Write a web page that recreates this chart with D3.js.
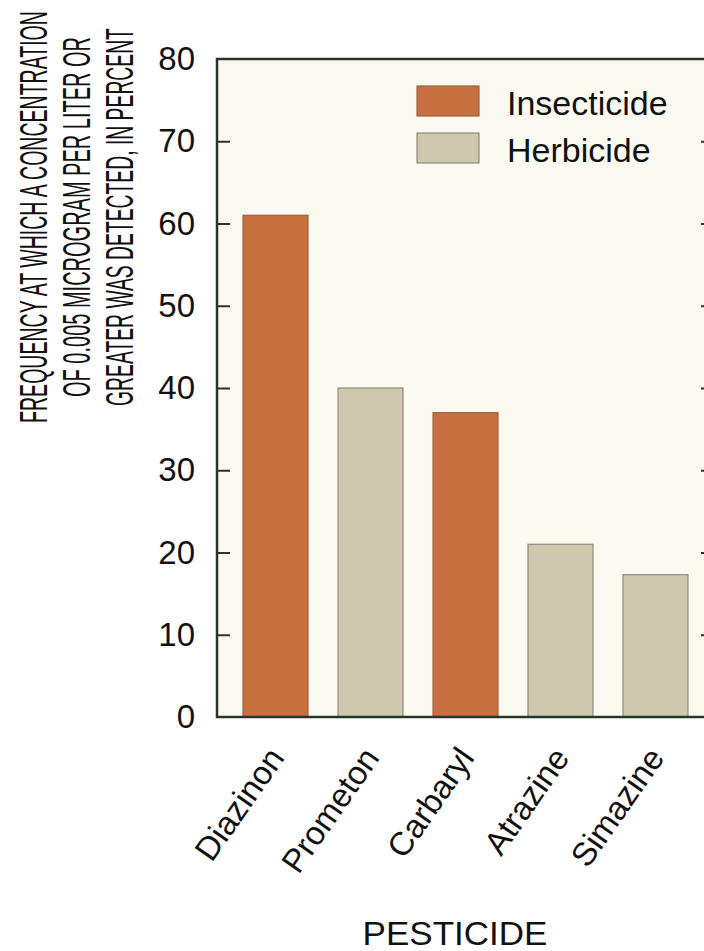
<!DOCTYPE html>
<html>
<head>
<meta charset="utf-8">
<script src="https://cdn.jsdelivr.net/npm/d3@7"></script>
<style>
  html, body { margin: 0; padding: 0; background: #ffffff; }
  svg { display: block; }
  text { font-family: "Liberation Sans", Arial, Helvetica, sans-serif; fill: #111; }
</style>
</head>
<body>
<svg id="chart" width="704" height="951"></svg>
<script>
// ---- data ----
const categories = ["Diazinon", "Prometon", "Carbaryl", "Atrazine", "Simazine"];
const values = [61, 40, 37, 21, 17.3];
const types = ["Insecticide", "Herbicide", "Insecticide", "Herbicide", "Herbicide"];
const legendLabels = ["Insecticide", "Herbicide"];
const yTicks = [0, 10, 20, 30, 40, 50, 60, 70, 80];
const yTitleLines = [
  "FREQUENCY AT WHICH A CONCENTRATION",
  "OF 0.005 MICROGRAM PER LITER OR",
  "GREATER WAS DETECTED, IN PERCENT"
];
const xTitle = "PESTICIDE";

// ---- layout ----
const plotL = 217, plotR = 714, plotT = 59, plotB = 717;
const colors = { Insecticide: "#c6703f", Herbicide: "#cdc8ae" };
const strokes = { Insecticide: "#a0603c", Herbicide: "#8f8b7c" };
const axisColor = "#28352b";

const svg = d3.select("#chart");

const x = d3.scaleBand().domain(categories).range([plotL, plotR])
  .paddingInner(0.316).paddingOuter(0.274);
const y = d3.scaleLinear().domain([0, 80]).range([plotB, plotT]);

// plot background
svg.append("rect").attr("x", plotL).attr("y", plotT)
  .attr("width", plotR - plotL).attr("height", plotB - plotT)
  .attr("fill", "#fbfaf1");

// bars
svg.append("g").selectAll("rect").data(categories).join("rect")
  .attr("x", d => x(d))
  .attr("y", (d, i) => y(values[i]))
  .attr("width", x.bandwidth())
  .attr("height", (d, i) => y(0) - y(values[i]))
  .attr("fill", (d, i) => colors[types[i]])
  .attr("stroke", (d, i) => strokes[types[i]])
  .attr("stroke-width", 1.2);

// left axis
const yAxis = d3.axisLeft(y).tickValues(yTicks).tickSizeInner(-13).tickSizeOuter(0).tickPadding(22);
const gy = svg.append("g").attr("transform", `translate(${plotL},0)`).call(yAxis);
gy.select(".domain").remove();
gy.selectAll(".tick line").attr("stroke", axisColor).attr("stroke-width", 2)
  .filter(d => d === 0 || d === 80).remove();
gy.selectAll(".tick text").attr("font-size", 33).attr("fill", "#111")
  .style("font-family", '"Liberation Sans", Arial, sans-serif');

// right axis ticks (no labels)
const yAxisR = d3.axisRight(y).tickValues(yTicks).tickSizeInner(-13).tickSizeOuter(0).tickFormat("");
const gyr = svg.append("g").attr("transform", `translate(${plotR},0)`).call(yAxisR);
gyr.select(".domain").remove();
gyr.selectAll(".tick line").attr("stroke", axisColor).attr("stroke-width", 2)
  .filter(d => d === 0 || d === 80).remove();

// frame
svg.append("rect").attr("x", plotL).attr("y", plotT)
  .attr("width", plotR - plotL).attr("height", plotB - plotT)
  .attr("fill", "none").attr("stroke", axisColor).attr("stroke-width", 2.5);

// category labels
svg.append("g").selectAll("text").data(categories).join("text")
  .attr("transform", d => `translate(${x(d) + x.bandwidth() / 2 + 10},${plotB + 41}) rotate(-55)`)
  .attr("text-anchor", "end")
  .attr("font-size", 33)
  .text(d => d);

// x title
const xt = svg.append("text").attr("font-size", 33).attr("text-anchor", "middle").text(xTitle);
const xtw = xt.node().getComputedTextLength();
xt.attr("transform", `translate(455,945) scale(${185 / xtw},1)`);

// y title (condensed, rotated)
const yTitleBase = [47, 90, 133];
const yTitleLen = [412, 360, 378];
yTitleLines.forEach((line, i) => {
  const t = svg.append("text")
    .attr("text-anchor", "middle")
    .attr("font-size", 39)
    .text(line);
  const w = t.node().getComputedTextLength();
  t.attr("transform", `translate(${yTitleBase[i]},217) rotate(-90) scale(${yTitleLen[i] / w},1)`);
});

// legend
const lg = svg.append("g");
legendLabels.forEach((lab, i) => {
  const yy = 86 + i * 47;
  lg.append("rect").attr("x", 417).attr("y", yy).attr("width", 62).attr("height", 30)
    .attr("fill", colors[lab]).attr("stroke", strokes[lab]).attr("stroke-width", 1.2);
  lg.append("text").attr("x", 507).attr("y", yy + 29).attr("font-size", 34)
    .attr("fill", "#2a2a2a").text(lab);
});
</script>
</body>
</html>
